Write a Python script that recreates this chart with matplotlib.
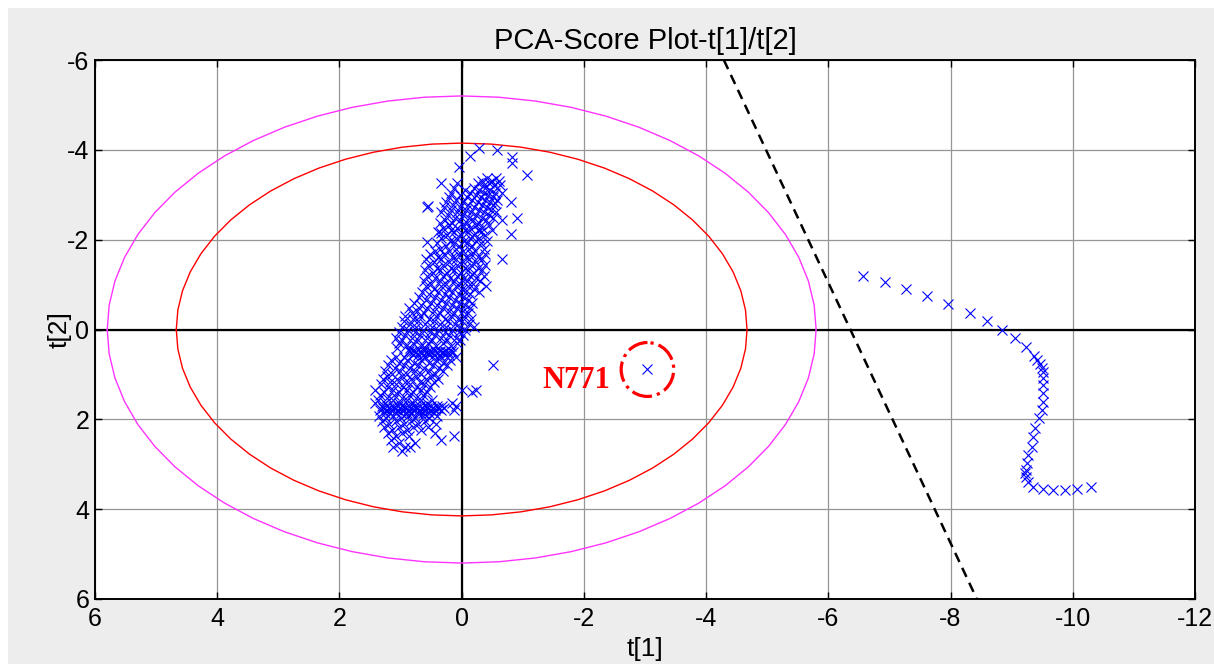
import numpy as np
import matplotlib
matplotlib.use("Agg")
import matplotlib.pyplot as plt
from matplotlib.patches import Ellipse, Rectangle

plt.rcParams['font.family'] = ['Liberation Sans', 'DejaVu Sans']
plt.rcParams['axes.unicode_minus'] = False

# ---- axis settings ----
x_ticks = [6, 4, 2, 0, -2, -4, -6, -8, -10, -12]
y_ticks = [-6, -4, -2, 0, 2, 4, 6]

# ---- confidence ellipse half-axes (t[1], t[2]) ----
limit_inner = (4.67, 4.15)
limit_outer = (5.80, 5.20)

# ---- separating boundary (t[1], t[2]) end points ----
boundary_t1 = [-4.29, -8.43]
boundary_t2 = [-6.0, 6.0]

# ---- isolated samples at the top of the normal cluster ----
top_t1 = [-0.28, -0.58, -0.14, -0.82, -0.82, -1.07, 0.04, 0.34, 0.55, 0.57,
          -0.81, -0.90, -0.66, -0.81, -0.55, 0.57, 0.34]
top_t2 = [-4.04, -4.00, -3.86, -3.84, -3.70, -3.44, -3.62, -3.26, -2.75, -2.72,
          -2.84, -2.48, -2.44, -2.13, -2.82, -1.95, -2.15]

# ---- dense upper part of the normal cluster: rows of (t[2], t[1] values) ----
upper_rows = [
    (-3.38, [-0.41, -0.57]),
    (-3.31, [-0.33, -0.49, -0.61]),
    (-3.27, [0.07, -0.27, -0.44]),
    (-3.22, [-0.36, -0.53, -0.63]),
    (-3.16, [0.13, -0.21, -0.39, -0.58]),
    (-3.11, [-0.06, -0.29, -0.47]),
    (-3.05, [0.17, -0.14, -0.37, -0.55, -0.66]),
    (-2.99, [0.02, -0.24, -0.43]),
    (-2.94, [0.21, -0.09, -0.31, -0.51]),
    (-2.88, [0.09, -0.17, -0.38, -0.58]),
    (-2.83, [0.26, -0.03, -0.26, -0.46]),
    (-2.77, [0.14, -0.11, -0.33, -0.52]),
    (-2.72, [0.29, 0.03, -0.20, -0.41]),
    (-2.66, [0.18, -0.07, -0.29, -0.48]),
    (-2.61, [0.33, 0.07, -0.15, -0.37, -0.56]),
    (-2.55, [0.22, -0.02, -0.24, -0.44]),
    (-2.49, [0.11, -0.12, -0.33, -0.51]),
    (-2.44, [0.27, 0.02, -0.19, -0.40]),
    (-2.38, [0.36, 0.15, -0.08, -0.28]),
    (-2.33, [0.21, -0.02, -0.23, -0.45]),
    (-2.27, [0.31, 0.08, -0.14, -0.34]),
    (-2.21, [0.17, -0.06, -0.27, -0.49]),
    (-2.16, [0.38, 0.12, -0.11, -0.31]),
    (-2.10, [0.24, 0.01, -0.20, -0.38]),
    (-2.04, [0.33, 0.09, -0.13, -0.29]),
    (-1.98, [0.19, -0.04, -0.24, -0.42]),
    (-1.92, [0.41, 0.13, -0.09, -0.31]),
    (-1.86, [0.26, 0.04, -0.17]),
    (-1.80, [0.35, 0.10, -0.12, -0.36]),
    (-1.74, [0.44, 0.20, -0.03, -0.22]),
]

# ---- middle band of the normal cluster ----
middle_rows = [
    (-1.68, [0.52, 0.29, 0.06, -0.16, -0.39]),
    (-1.62, [0.38, 0.15, -0.07, -0.27]),
    (-1.56, [0.58, 0.33, 0.10, -0.12, -0.34, -0.66]),
    (-1.50, [0.45, 0.21, -0.02, -0.24]),
    (-1.44, [0.55, 0.30, 0.08, -0.15, -0.38]),
    (-1.38, [0.41, 0.17, -0.05, -0.27]),
    (-1.32, [0.60, 0.35, 0.12, -0.10, -0.33]),
    (-1.26, [0.47, 0.24, 0.01, -0.20]),
    (-1.20, [0.56, 0.31, 0.07, -0.14, -0.37]),
    (-1.14, [0.43, 0.19, -0.04, -0.24]),
    (-1.08, [0.62, 0.36, 0.13, -0.08, -0.30]),
    (-1.02, [0.50, 0.26, 0.03, -0.18]),
    (-0.96, [0.58, 0.33, 0.10, -0.11, -0.40]),
    (-0.90, [0.46, 0.22, 0.00, -0.21]),
    (-0.84, [0.65, 0.39, 0.15, -0.06, -0.28]),
    (-0.78, [0.53, 0.28, 0.05, -0.14]),
    (-0.72, [0.70, 0.44, 0.20, -0.03]),
    (-0.66, [0.59, 0.34, 0.11, -0.10]),
    (-0.60, [0.78, 0.50, 0.25, 0.03, -0.17]),
    (-0.54, [0.66, 0.40, 0.16, -0.06]),
    (-0.48, [0.86, 0.57, 0.31, 0.08, -0.13]),
    (-0.42, [0.73, 0.46, 0.21, -0.02]),
    (-0.36, [0.82, 0.61, 0.36, 0.13, -0.10]),
    (-0.30, [0.92, 0.68, 0.42, 0.18, -0.04]),
    (-0.24, [0.79, 0.53, 0.28, 0.06, -0.16]),
    (-0.18, [0.95, 0.71, 0.45, 0.22, 0.00]),
    (-0.12, [0.85, 0.60, 0.35, 0.11, -0.12]),
    (-0.06, [0.98, 0.74, 0.49, 0.26, 0.03, -0.20]),
]

# ---- lower part of the normal cluster, including two dense operating levels ----
lower_rows = [
    (0.00, [0.88, 0.63, 0.39, 0.16, -0.06]),
    (0.06, [1.03, 0.77, 0.52, 0.28, 0.05]),
    (0.12, [0.93, 0.68, 0.44, 0.20, -0.02]),
    (0.18, [1.07, 0.81, 0.57, 0.33, 0.10]),
    (0.24, [0.97, 0.72, 0.48, 0.24, 0.02]),
    (0.30, [1.02, 0.79, 0.55, 0.30, 0.08]),
    (0.36, [0.91, 0.66, 0.42, 0.18]),
    (0.42, [1.05, 0.84, 0.60]),
    (0.47, [0.86, 0.78, 0.69, 0.61, 0.52, 0.44, 0.35, 0.27, 0.18]),
    (0.51, [0.83, 0.74, 0.66, 0.57, 0.49, 0.40, 0.31, 0.23, 0.14]),
    (0.56, [0.80, 0.71, 0.63, 0.54, 0.45, 0.37, 0.28, 0.20]),
    (0.62, [1.08, 0.94, 0.60, 0.33, 0.09]),
    (0.68, [1.15, 0.89, 0.66, 0.42, 0.19]),
    (0.74, [1.02, 0.78, 0.54, 0.30]),
    (0.80, [1.20, 0.95, 0.71, 0.47, 0.24, -0.51]),
    (0.86, [1.09, 0.85, 0.61, 0.37]),
    (0.92, [1.26, 1.01, 0.77, 0.53, 0.31]),
    (0.98, [1.14, 0.90, 0.66, 0.43]),
    (1.04, [1.22, 0.98, 0.74, 0.50]),
    (1.10, [1.29, 1.06, 0.83, 0.59, 0.38]),
    (1.16, [1.17, 0.93, 0.69, 0.46]),
    (1.22, [1.32, 1.08, 0.84, 0.61]),
    (1.28, [1.20, 0.96, 0.73, 0.52]),
    (1.34, [1.42, 1.13, 0.89, 0.66, 0.00, -0.23]),
    (1.40, [1.27, 1.03, 0.79, 0.56, -0.17]),
    (1.46, [1.34, 1.10, 0.86, 0.63]),
    (1.52, [1.22, 0.98, 0.74]),
    (1.58, [1.37, 1.13, 0.90, 0.67, 0.48]),
    (1.64, [1.42, 1.25, 1.02, 0.79, 0.57, 0.15]),
    (1.70, [1.31, 1.22, 1.13, 1.04, 0.95, 0.86, 0.77, 0.68, 0.59, 0.50, 0.41, 0.32, 0.10]),
    (1.75, [1.28, 1.19, 1.10, 1.01, 0.92, 0.83, 0.74, 0.65, 0.56, 0.47, 0.38, 0.29]),
    (1.80, [1.33, 1.24, 1.15, 1.06, 0.97, 0.88, 0.79, 0.70, 0.61, 0.52, 0.43, 0.34, 0.12]),
    (1.85, [1.26, 1.17, 1.08, 0.99, 0.90, 0.81, 0.72, 0.63, 0.54, 0.45]),
    (1.92, [1.36, 1.12, 0.88, 0.64, 0.41]),
    (1.98, [1.24, 1.00, 0.76, 0.53]),
    (2.04, [1.31, 1.07, 0.83, 0.60]),
    (2.10, [1.19, 0.95, 0.71, 0.42]),
    (2.17, [1.27, 1.03, 0.79, 0.55]),
    (2.24, [1.14, 0.90, 0.66]),
    (2.31, [1.21, 0.97, 0.43]),
    (2.38, [1.08, 0.86, 0.12]),
    (2.45, [1.16, 0.34]),
    (2.53, [1.02, 0.76]),
    (2.62, [1.13, 0.93, 0.84]),
    (2.70, [0.97]),
]

# ---- drifting samples outside the control region ----
drift_t1 = [-6.57, -6.92, -7.27, -7.62, -7.96, -8.32, -8.59, -8.84, -9.06, -9.24,
            -9.37, -9.46, -9.51, -9.52, -9.52, -9.52, -9.51, -9.49, -9.45, -9.38,
            -9.35, -9.33, -9.27, -9.25, -9.24, -9.24, -9.26, -9.35, -9.51, -9.68,
            -9.87, -10.07, -10.29, -9.42, -9.50, -9.22]
drift_t2 = [-1.19, -1.05, -0.90, -0.75, -0.56, -0.36, -0.19, 0.01, 0.20, 0.38,
            0.59, 0.77, 0.94, 1.09, 1.24, 1.41, 1.61, 1.79, 1.98, 2.20,
            2.39, 2.61, 2.80, 2.98, 3.13, 3.28, 3.39, 3.50, 3.54, 3.57,
            3.57, 3.56, 3.50, 0.68, 0.85, 3.20]

# ---- marked sample ----
n771_t1 = [-3.04]
n771_t2 = [0.89]


def unpack(rows):
    xs, ys = [], []
    for t2, t1_values in rows:
        xs.extend(t1_values)
        ys.extend([t2] * len(t1_values))
    return xs, ys


fig = plt.figure(figsize=(12.14, 6.64), dpi=100, facecolor='#ededed')
fig.patches.append(Rectangle((0, 1 - 8 / 664), 1, 8 / 664, transform=fig.transFigure,
                             facecolor='white', edgecolor='none', zorder=-1))
fig.patches.append(Rectangle((0, 0), 8 / 1214, 1, transform=fig.transFigure,
                             facecolor='white', edgecolor='none', zorder=-1))

ax = fig.add_axes([95 / 1214, 65 / 664, 1100 / 1214, 539 / 664])
ax.set_facecolor('white')

# grid
ax.set_xlim(6, -12)
ax.set_ylim(6, -6)
ax.set_xticks(x_ticks)
ax.set_yticks(y_ticks)
ax.grid(True, color='#969696', linewidth=0.9, linestyle='-')
ax.set_axisbelow(True)

# zero axes
ax.axhline(0, color='black', linewidth=1.6, zorder=2)
ax.axvline(0, color='black', linewidth=1.6, zorder=2)

# confidence ellipses
theta = np.linspace(0, 2 * np.pi, 61)
for (a, b), col in [(limit_inner, '#ff0000'), (limit_outer, '#ff33ff')]:
    ax.plot(a * np.cos(theta), b * np.sin(theta), color=col, linewidth=1.0, zorder=3)

# boundary
ax.plot(boundary_t1, boundary_t2, color='black', linewidth=1.8, dashes=(4, 2.6), zorder=3)

# scores
marker_kw = dict(linestyle='none', marker='x', color='#0000ff', markersize=6.5,
                 markeredgewidth=0.8, zorder=4)
ax.plot(top_t1, top_t2, **marker_kw)
for rows in (upper_rows, middle_rows, lower_rows):
    xs, ys = unpack(rows)
    ax.plot(xs, ys, **marker_kw)
ax.plot(drift_t1, drift_t2, **marker_kw)
ax.plot(n771_t1, n771_t2, **marker_kw)

# highlight the marked sample
ax.add_patch(Ellipse((n771_t1[0], n771_t2[0]), width=0.86, height=1.2, fill=False,
                     edgecolor='#ff0000', linewidth=2.3, linestyle='-.', zorder=5))
ax.text(-2.43, 1.30, 'N771', color='#ff0000', fontsize=22, fontweight='bold',
        family=['Liberation Serif', 'DejaVu Serif'], ha='right', va='baseline', zorder=5)

# frame and ticks
for s in ax.spines.values():
    s.set_linewidth(1.4)
    s.set_color('black')
ax.tick_params(direction='in', length=5, width=1.0, top=True, right=True,
               labelsize=18, pad=4, colors='black')
ax.tick_params(axis='x', pad=6)

ax.set_title('PCA-Score Plot-t[1]/t[2]', fontsize=21, pad=8)
ax.set_xlabel('t[1]', fontsize=19)
ax.set_ylabel('t[2]', fontsize=19)
ax.xaxis.set_label_coords(0.5, -0.07)
ax.yaxis.set_label_coords(-0.021, 0.5)

fig.savefig('out.png', dpi=100, facecolor=fig.get_facecolor())
